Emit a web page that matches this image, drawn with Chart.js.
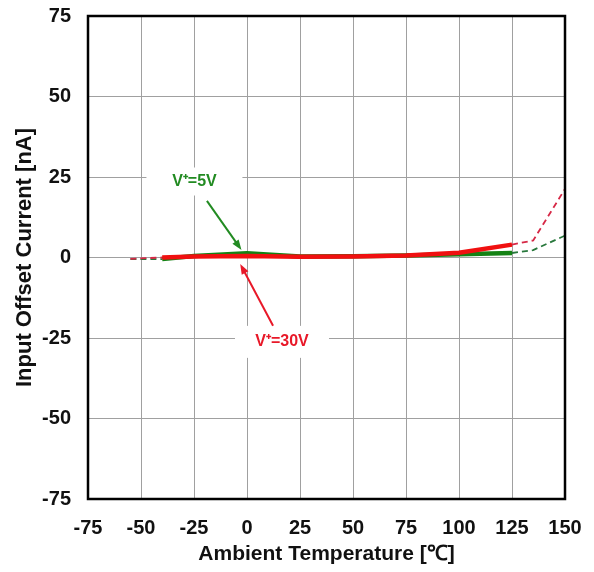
<!DOCTYPE html>
<html>
<head>
<meta charset="utf-8">
<script src="https://cdn.jsdelivr.net/npm/chart.js@4/dist/chart.umd.min.js"></script>
<style>
  html, body { margin: 0; padding: 0; background: #fff; }
  #wrap { width: 594px; height: 572px; }
</style>
</head>
<body>
<div id="wrap"><canvas id="chart" width="594" height="572"></canvas></div>
<script>
  const temps = [-55, -40, -25, 0, 25, 50, 75, 100, 125, 135, 150];
  // input offset current [nA]
  const offset5V = [-0.5, -0.5, 0.5, 1.3, 0.3, 0.4, 0.6, 1.0, 1.4, 2.3, 6.8];
  const offset30V = [-0.4, 0.0, 0.3, 0.5, 0.2, 0.3, 0.6, 1.5, 4.0, 5.3, 21.3];
  // measured range, outside of it the curve is dashed
  const measuredMin = -40;
  const measuredMax = 125;

  const xTicks = [-75, -50, -25, 0, 25, 50, 75, 100, 125, 150];
  const yTicks = [-75, -50, -25, 0, 25, 50, 75];

  const FONT = "'Liberation Sans', Arial, sans-serif";

  const toPoints = (vals) => temps.map((t, i) => ({ x: t, y: vals[i] }));

  const outside = (ctx) =>
    ctx.p0.parsed.x < measuredMin || ctx.p0.parsed.x >= measuredMax;

  const makeSet = (label, vals, solid, dashed) => ({
    label: label,
    data: toPoints(vals),
    showLine: true,
    pointRadius: 0,
    borderColor: solid,
    borderWidth: 4.5,
    segment: {
      borderDash: (ctx) => (outside(ctx) ? [6, 4] : undefined),
      borderWidth: (ctx) => (outside(ctx) ? 1.8 : undefined),
      borderColor: (ctx) => (outside(ctx) ? dashed : undefined),
    },
  });

  // labels with arrows, given in data units
  const notes = [
    {
      text: "V\u207A=5V", color: "rgb(34,139,34)",
      at: [-24.8, 23.6], box: [96, 28],
      from: [-18.9, 17.6], to: [-2.6, 2.3],
    },
    {
      text: "V\u207A=30V", color: "rgb(232,24,40)",
      at: [16.5, -26.2], box: [94, 32],
      from: [12.3, -21.2], to: [-3.2, -2.0],
    },
  ];

  const notesPlugin = {
    id: "notes",
    afterDatasetsDraw(chart) {
      const { ctx, chartArea, scales } = chart;
      const xs = scales.x, ys = scales.y;
      ctx.save();
      notes.forEach((n) => {
        const cx = xs.getPixelForValue(n.at[0]);
        const cy = ys.getPixelForValue(n.at[1]);
        ctx.fillStyle = "#fff";
        ctx.fillRect(cx - n.box[0] / 2, cy - n.box[1] / 2, n.box[0], n.box[1]);
        ctx.fillStyle = n.color;
        ctx.font = "bold 16px " + FONT;
        ctx.textAlign = "center";
        ctx.textBaseline = "middle";
        ctx.fillText(n.text, cx, cy);

        const x1 = xs.getPixelForValue(n.from[0]);
        const y1 = ys.getPixelForValue(n.from[1]);
        const x2 = xs.getPixelForValue(n.to[0]);
        const y2 = ys.getPixelForValue(n.to[1]);
        const ang = Math.atan2(y2 - y1, x2 - x1);
        ctx.strokeStyle = n.color;
        ctx.lineWidth = 2;
        ctx.beginPath();
        ctx.moveTo(x1, y1);
        ctx.lineTo(x2 - 6 * Math.cos(ang), y2 - 6 * Math.sin(ang));
        ctx.stroke();
        ctx.beginPath();
        ctx.moveTo(x2, y2);
        ctx.lineTo(x2 - 11 * Math.cos(ang - 0.35), y2 - 11 * Math.sin(ang - 0.35));
        ctx.lineTo(x2 - 11 * Math.cos(ang + 0.35), y2 - 11 * Math.sin(ang + 0.35));
        ctx.closePath();
        ctx.fill();
      });
      // frame round the plot
      ctx.strokeStyle = "#000";
      ctx.lineWidth = 2.5;
      ctx.strokeRect(chartArea.left, chartArea.top,
        chartArea.right - chartArea.left, chartArea.bottom - chartArea.top);
      ctx.restore();
    },
  };

  new Chart(document.getElementById("chart"), {
    type: "scatter",
    data: {
      datasets: [
        makeSet("V+=30V", offset30V, "rgb(240,16,16)", "rgb(214,40,70)"),
        makeSet("V+=5V", offset5V, "rgb(20,130,20)", "rgb(40,120,60)"),
      ],
    },
    options: {
      responsive: false,
      animation: false,
      layout: { padding: { top: 16, right: 29, left: 0, bottom: 0 } },
      plugins: {
        legend: { display: false },
        tooltip: { enabled: false },
      },
      scales: {
        x: {
          type: "linear",
          min: -75,
          max: 150,
          afterBuildTicks: (s) => { s.ticks = xTicks.map((v) => ({ value: v })); },
          afterFit: (s) => {
            s.height = 73;
            s.paddingLeft = 0;
            s.paddingRight = 0;
          },
          grid: { color: "#a0a0a0", lineWidth: 1, drawTicks: false },
          border: { display: false },
          ticks: {
            color: "#111",
            padding: 17,
            font: { family: FONT, size: 20, weight: "bold" },
          },
          title: {
            display: true,
            text: "Ambient Temperature [\u2103]",
            color: "#111",
            font: { family: FONT, size: 21, weight: "bold" },
            padding: { bottom: 5 },
          },
        },
        y: {
          type: "linear",
          min: -75,
          max: 75,
          afterBuildTicks: (s) => { s.ticks = yTicks.map((v) => ({ value: v })); },
          afterFit: (s) => {
            s.width = 88;
            s.paddingTop = 0;
            s.paddingBottom = 0;
          },
          grid: { color: "#a0a0a0", lineWidth: 1, drawTicks: false },
          border: { display: false },
          ticks: {
            color: "#111",
            padding: 17,
            font: { family: FONT, size: 20, weight: "bold" },
          },
          title: {
            display: true,
            text: "Input Offset Current [nA]",
            color: "#111",
            font: { family: FONT, size: 22, weight: "bold" },
            padding: { top: 12 },
          },
        },
      },
    },
    plugins: [notesPlugin],
  });
</script>
</body>
</html>
